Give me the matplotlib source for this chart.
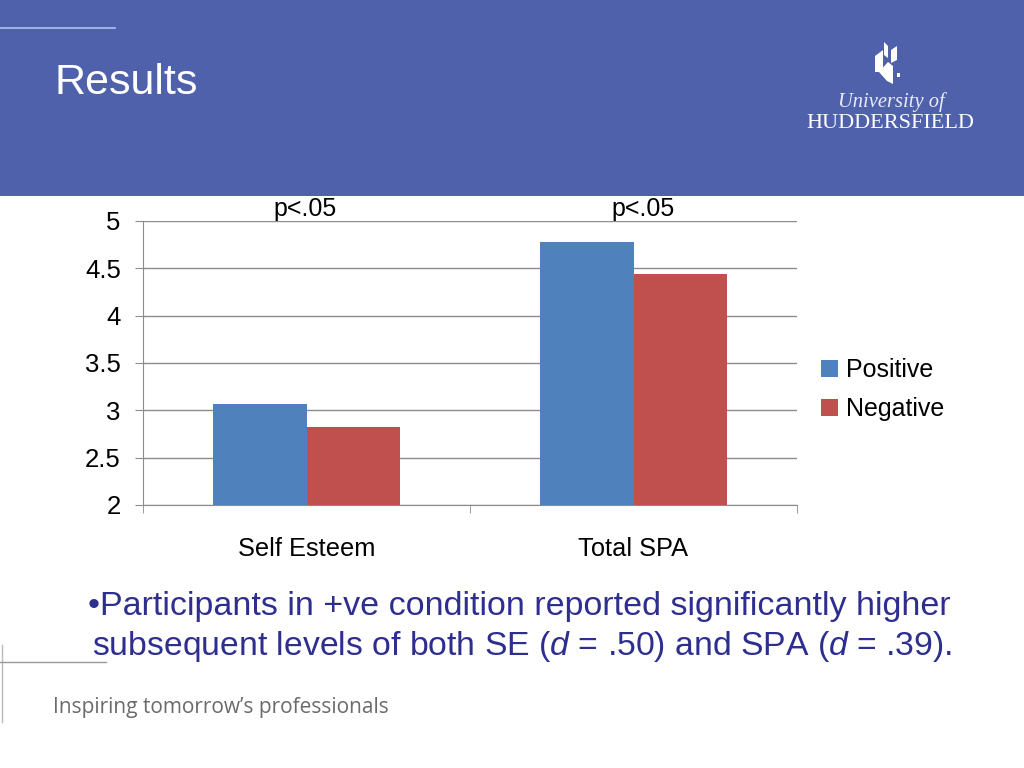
import matplotlib.pyplot as plt
from matplotlib.patches import Rectangle, Polygon
from matplotlib.lines import Line2D
import numpy as np

# data
categories = ['Self Esteem', 'Total SPA']
positive = [3.07, 4.78]
negative = [2.82, 4.44]
series_names = ['Positive', 'Negative']
p_labels = ['p<.05', 'p<.05']
yticks = [2, 2.5, 3, 3.5, 4, 4.5, 5]
ytick_labels = ['2', '2.5', '3', '3.5', '4', '4.5', '5']

blue = '#4F81BD'
red = '#C0504D'
header = '#5061AB'

plt.rcParams['font.family'] = ['Liberation Sans', 'DejaVu Sans']
plt.rcParams['mathtext.fontset'] = 'custom'
plt.rcParams['mathtext.it'] = 'Liberation Sans:italic'
plt.rcParams['mathtext.rm'] = 'Liberation Sans'

fig = plt.figure(figsize=(10.24, 7.68), dpi=100)
W, H = 1024, 768

def fx(px):
    return px / W

def fy(py):
    return 1 - py / H

#%% header band
fig.patches.append(Rectangle((0, fy(196)), 1, 196 / H, transform=fig.transFigure,
                             facecolor=header, edgecolor='none', zorder=0))
fig.lines.append(Line2D([0, fx(115)], [fy(28), fy(28)], transform=fig.transFigure,
                        color='#AFC0EE', lw=1.2))
fig.text(fx(55), fy(83), 'Results', color='white', fontsize=31, va='center', ha='left')

# logo mark (rough)
logo = [
    [(875, 56), (883, 50), (883, 72), (875, 72)],
    [(884, 42), (888, 46), (888, 58), (884, 55)],
    [(879, 72), (888, 62), (893, 66), (893, 84), (887, 81)],
    [(891, 50), (897, 46), (897, 60), (891, 63)],
    [(897, 73), (900, 73), (900, 77), (897, 77)],
]
for pts in logo:
    fig.patches.append(Polygon([(fx(x), fy(y)) for x, y in pts], closed=True,
                               transform=fig.transFigure, facecolor='white',
                               edgecolor='none'))
fig.text(fx(891), fy(102), 'University of', color='#E8ECF8', fontsize=14.8, style='italic',
         family='Liberation Serif', ha='center', va='center')
fig.text(fx(890), fy(123), 'HUDDERSFIELD', color='white', fontsize=16,
         family='Liberation Serif', ha='center', va='center')

#%% chart
ax = fig.add_axes([fx(143), fy(505), fx(797) - fx(143), (505 - 221) / H])
x = np.arange(len(categories))
w = 0.285
ax.bar(x - w / 2, positive, w, color=blue, label=series_names[0], zorder=3)
ax.bar(x + w / 2, negative, w, color=red, label=series_names[1], zorder=3)

ax.set_ylim(2, 5)
ax.set_xlim(-0.5, 1.5)
ax.set_yticks(yticks)
ax.set_yticklabels(ytick_labels, fontsize=18.5)
ax.yaxis.grid(True, color='#8C8C8C', lw=1)
ax.set_axisbelow(True)
ax.set_xticks(x)
ax.set_xticklabels(categories, fontsize=18.3)
ax.tick_params(axis='x', length=0, pad=23)
ax.set_xticks([-0.5, 0.5, 1.5], minor=True)
ax.tick_params(axis='x', which='minor', length=6, color='#8C8C8C')
ax.tick_params(axis='y', length=6, color='#8C8C8C', pad=10)
for s in ['top', 'right']:
    ax.spines[s].set_visible(False)
ax.spines['left'].set_color('#8C8C8C')
ax.spines['bottom'].set_color('#8C8C8C')

for xi, lab in zip([-0.005, 1.03], p_labels):
    ax.text(xi, 5.0, lab, ha='center', va='bottom', fontsize=18)

ax.legend(loc='center left', bbox_to_anchor=(1.0214, 0.405), borderaxespad=0,
          frameon=False, fontsize=18, handlelength=0.7, handleheight=0.7,
          handletextpad=0.3, labelspacing=0.6)

#%% body text
txt_color = '#2E2E8F'
fig.text(fx(88), fy(607), '\u2022Participants in +ve condition reported significantly higher',
         color=txt_color, fontsize=24.5, va='center')
fig.text(fx(92), fy(646), r'subsequent levels of both SE ($d$ = .50) and SPA ($d$ = .39).',
         color=txt_color, fontsize=24.3, va='center')

# footer decorations
fig.lines.append(Line2D([fx(2), fx(2)], [fy(645), fy(722)], transform=fig.transFigure,
                        color='#BBBBBB', lw=1))
fig.lines.append(Line2D([0, fx(106)], [fy(662), fy(662)], transform=fig.transFigure,
                        color='#999999', lw=1))
fig.text(fx(53), fy(707), 'Inspiring tomorrow\u2019s professionals', color='#6B6B6B',
         fontsize=15, family='Open Sans', va='center')

fig.savefig('out.png', dpi=100)
